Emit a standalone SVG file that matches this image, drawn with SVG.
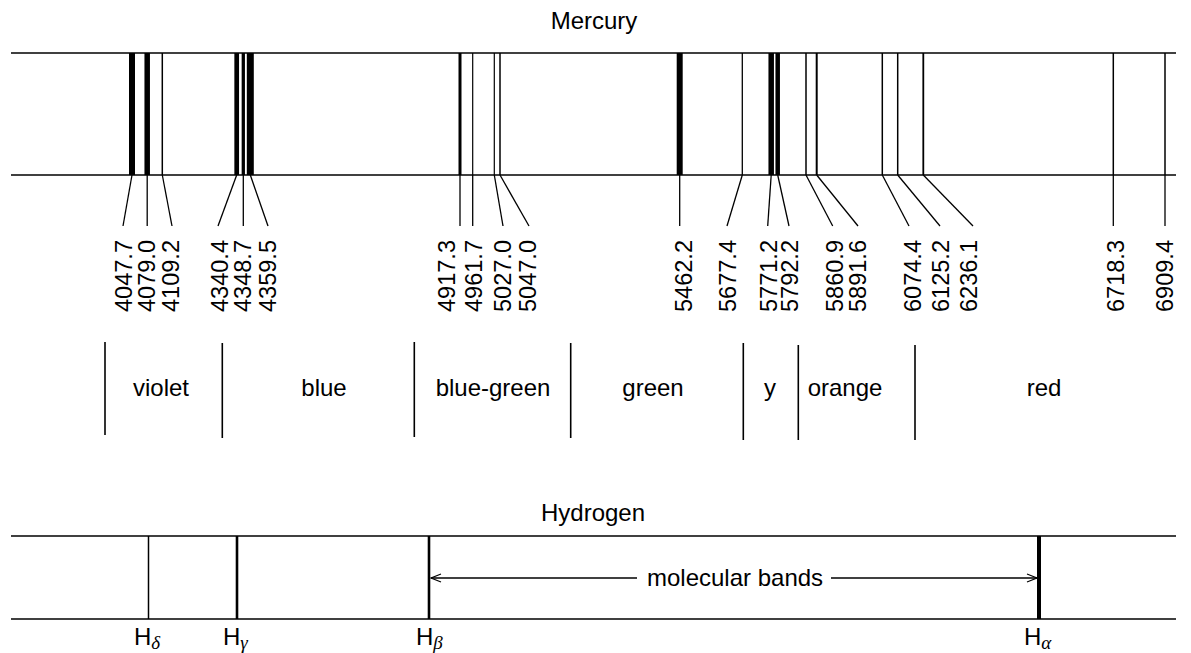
<svg xmlns="http://www.w3.org/2000/svg" width="1191" height="653" viewBox="0 0 1191 653">
<defs>
<style>
text{font-family:"Liberation Sans",Arial,sans-serif;fill:#000}
.t{font-size:24px}
.n{font-size:23px}
.b{font-size:24px}
.frame{stroke:#000;stroke-width:1.4;fill:none}
.ln{stroke:#000;fill:none}
.ld{stroke:#000;stroke-width:1.3;fill:none}
.dv{stroke:#000;stroke-width:1.6}
.sub{font-size:19px;font-style:italic;font-family:"Liberation Serif","DejaVu Serif",serif}
</style>
<marker id="ah" markerWidth="12" markerHeight="10" refX="11" refY="5" orient="auto-start-reverse" markerUnits="userSpaceOnUse">
<path d="M1,1 L11,5 L1,9" fill="none" stroke="#000" stroke-width="1.2"/>
</marker>
</defs>
<rect width="1191" height="653" fill="#fff"/>

<g id="mercury">
<text class="t" x="594" y="29" text-anchor="middle">Mercury</text>
<line class="frame" x1="11" y1="53" x2="1176" y2="53"/>
<line class="frame" x1="11" y1="175" x2="1176" y2="175"/>
<g id="hg-lines" class="ln">
<line x1="132" y1="53" x2="132" y2="175" stroke-width="6"/>
<line x1="147.2" y1="53" x2="147.2" y2="175" stroke-width="5.5"/>
<line x1="162.3" y1="53" x2="162.3" y2="175" stroke-width="1.5"/>
<line x1="236.7" y1="53" x2="236.7" y2="175" stroke-width="4.7"/>
<line x1="243.3" y1="53" x2="243.3" y2="175" stroke-width="3.3"/>
<line x1="250.3" y1="53" x2="250.3" y2="175" stroke-width="7"/>
<line x1="460" y1="53" x2="460" y2="175" stroke-width="3"/>
<line x1="472.7" y1="53" x2="472.7" y2="175" stroke-width="1.2"/>
<line x1="494.3" y1="53" x2="494.3" y2="175" stroke-width="1.2"/>
<line x1="500" y1="53" x2="500" y2="175" stroke-width="1.5"/>
<line x1="679.7" y1="53" x2="679.7" y2="175" stroke-width="6"/>
<line x1="742.3" y1="53" x2="742.3" y2="175" stroke-width="1.3"/>
<line x1="771.2" y1="53" x2="771.2" y2="175" stroke-width="5.5"/>
<line x1="777.7" y1="53" x2="777.7" y2="175" stroke-width="4.5"/>
<line x1="806" y1="53" x2="806" y2="175" stroke-width="1.5"/>
<line x1="816.7" y1="53" x2="816.7" y2="175" stroke-width="2"/>
<line x1="882.3" y1="53" x2="882.3" y2="175" stroke-width="1.5"/>
<line x1="897.7" y1="53" x2="897.7" y2="175" stroke-width="1.5"/>
<line x1="923.3" y1="53" x2="923.3" y2="175" stroke-width="1.8"/>
<line x1="1113.3" y1="53" x2="1113.3" y2="175" stroke-width="1.5"/>
<line x1="1165" y1="53" x2="1165" y2="175" stroke-width="1.5"/>
</g>
</g>

<g id="connectors">
<g class="ld">
<line x1="132" y1="175" x2="123" y2="226"/>
<line x1="147.2" y1="175" x2="147.2" y2="226"/>
<line x1="162.3" y1="175" x2="172" y2="226"/>
<line x1="236.7" y1="175" x2="218" y2="226"/>
<line x1="243.3" y1="175" x2="243.3" y2="226"/>
<line x1="250.3" y1="175" x2="268" y2="226"/>
<line x1="460" y1="175" x2="460" y2="226"/>
<line x1="472.7" y1="175" x2="472.7" y2="226"/>
<line x1="494.3" y1="175" x2="503" y2="226"/>
<line x1="500" y1="175" x2="529" y2="226"/>
<line x1="679.7" y1="175" x2="679.7" y2="226"/>
<line x1="742.3" y1="175" x2="727" y2="226"/>
<line x1="771.2" y1="175" x2="767.7" y2="226"/>
<line x1="777.7" y1="175" x2="789" y2="226"/>
<line x1="806" y1="175" x2="832.7" y2="226"/>
<line x1="816.7" y1="175" x2="858" y2="226"/>
<line x1="882.3" y1="175" x2="909" y2="226"/>
<line x1="897.7" y1="175" x2="940" y2="226"/>
<line x1="923.3" y1="175" x2="973" y2="226"/>
<line x1="1113.3" y1="175" x2="1113.3" y2="226"/>
<line x1="1165" y1="175" x2="1165" y2="226"/>
</g>
<line class="ld" x1="637" y1="578" x2="431" y2="578" marker-end="url(#ah)"/>
<line class="ld" x1="831" y1="578" x2="1037" y2="578" marker-end="url(#ah)"/>
</g>

<g id="wavelengths" class="n">
<text transform="translate(132,312) rotate(-90)" textLength="72" lengthAdjust="spacingAndGlyphs">4047.7</text>
<text transform="translate(155,312) rotate(-90)" textLength="72" lengthAdjust="spacingAndGlyphs">4079.0</text>
<text transform="translate(179,312) rotate(-90)" textLength="72" lengthAdjust="spacingAndGlyphs">4109.2</text>
<text transform="translate(228,312) rotate(-90)" textLength="72" lengthAdjust="spacingAndGlyphs">4340.4</text>
<text transform="translate(251,312) rotate(-90)" textLength="72" lengthAdjust="spacingAndGlyphs">4348.7</text>
<text transform="translate(276,312) rotate(-90)" textLength="72" lengthAdjust="spacingAndGlyphs">4359.5</text>
<text transform="translate(455,312) rotate(-90)" textLength="72" lengthAdjust="spacingAndGlyphs">4917.3</text>
<text transform="translate(482,312) rotate(-90)" textLength="72" lengthAdjust="spacingAndGlyphs">4961.7</text>
<text transform="translate(511,312) rotate(-90)" textLength="72" lengthAdjust="spacingAndGlyphs">5027.0</text>
<text transform="translate(536,312) rotate(-90)" textLength="72" lengthAdjust="spacingAndGlyphs">5047.0</text>
<text transform="translate(692,312) rotate(-90)" textLength="72" lengthAdjust="spacingAndGlyphs">5462.2</text>
<text transform="translate(736,312) rotate(-90)" textLength="72" lengthAdjust="spacingAndGlyphs">5677.4</text>
<text transform="translate(777,312) rotate(-90)" textLength="72" lengthAdjust="spacingAndGlyphs">5771.2</text>
<text transform="translate(798,312) rotate(-90)" textLength="72" lengthAdjust="spacingAndGlyphs">5792.2</text>
<text transform="translate(843,312) rotate(-90)" textLength="72" lengthAdjust="spacingAndGlyphs">5860.9</text>
<text transform="translate(866,312) rotate(-90)" textLength="72" lengthAdjust="spacingAndGlyphs">5891.6</text>
<text transform="translate(921,312) rotate(-90)" textLength="72" lengthAdjust="spacingAndGlyphs">6074.4</text>
<text transform="translate(949,312) rotate(-90)" textLength="72" lengthAdjust="spacingAndGlyphs">6125.2</text>
<text transform="translate(977,312) rotate(-90)" textLength="72" lengthAdjust="spacingAndGlyphs">6236.1</text>
<text transform="translate(1124,312) rotate(-90)" textLength="72" lengthAdjust="spacingAndGlyphs">6718.3</text>
<text transform="translate(1173,312) rotate(-90)" textLength="72" lengthAdjust="spacingAndGlyphs">6909.4</text>
</g>

<g id="colour-bands">
<line class="dv" x1="105" y1="342" x2="105" y2="435"/>
<line class="dv" x1="222.3" y1="343" x2="222.3" y2="438"/>
<line class="dv" x1="414.3" y1="342" x2="414.3" y2="437"/>
<line class="dv" x1="570.7" y1="343" x2="570.7" y2="438"/>
<line class="dv" x1="743.3" y1="343" x2="743.3" y2="440"/>
<line class="dv" x1="798.3" y1="345" x2="798.3" y2="440"/>
<line class="dv" x1="915" y1="345" x2="915" y2="440"/>
<text class="b" x="161" y="396" text-anchor="middle">violet</text>
<text class="b" x="324" y="396" text-anchor="middle">blue</text>
<text class="b" x="493" y="396" text-anchor="middle">blue-green</text>
<text class="b" x="653" y="396" text-anchor="middle">green</text>
<text class="b" x="770" y="396" text-anchor="middle">y</text>
<text class="b" x="845" y="396" text-anchor="middle">orange</text>
<text class="b" x="1044" y="396" text-anchor="middle">red</text>
</g>

<g id="hydrogen">
<text class="t" x="593" y="521" text-anchor="middle">Hydrogen</text>
<line class="frame" x1="11" y1="536" x2="1176" y2="536"/>
<line class="frame" x1="11" y1="619" x2="1176" y2="619"/>
<line class="ln" x1="148.5" y1="536" x2="148.5" y2="619" stroke-width="1.5"/>
<line class="ln" x1="237" y1="536" x2="237" y2="619" stroke-width="2.6"/>
<line class="ln" x1="429" y1="536" x2="429" y2="619" stroke-width="2.6"/>
<line class="ln" x1="1039" y1="536" x2="1039" y2="619" stroke-width="4"/>
<text class="t" x="647" y="586">molecular bands</text>
</g>

<g id="h-labels">
<text class="t" x="134" y="645">H<tspan class="sub" dy="4">δ</tspan></text>
<text class="t" x="223" y="645">H<tspan class="sub" dy="4">γ</tspan></text>
<text class="t" x="416" y="645">H<tspan class="sub" dy="4">β</tspan></text>
<text class="t" x="1024" y="645">H<tspan class="sub" dy="4">α</tspan></text>
</g>
</svg>
